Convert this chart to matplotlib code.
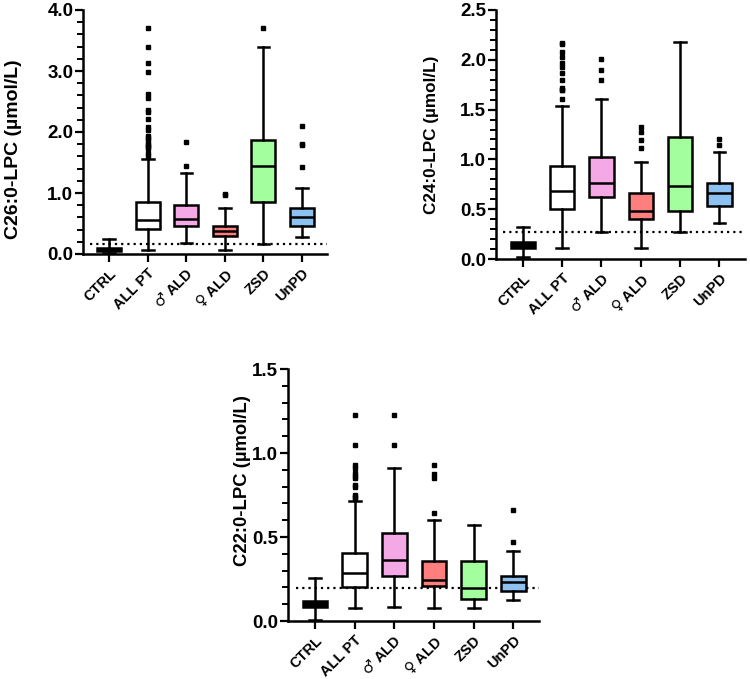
import matplotlib
matplotlib.use("Agg")
import matplotlib.pyplot as plt
from matplotlib.ticker import MultipleLocator, FormatStrFormatter

plt.rcParams['font.family'] = ['Liberation Sans', 'DejaVu Sans']
plt.rcParams['font.weight'] = 'bold'
plt.rcParams['mathtext.fontset'] = 'custom'
plt.rcParams['mathtext.rm'] = 'DejaVu Sans:bold'

categories = ["CTRL", "ALL PT", "$\\mathrm{\u2642}$ ALD", "$\\mathrm{\u2640}$ ALD", "ZSD", "UnPD"]
box_colors = ["#000000", "#FFFFFF", "#F5A8E6", "#FF7F7F", "#A3FF9E", "#8DC1F2"]

# ---- C26:0-LPC ----
c26_q1 = [0.055, 0.41, 0.46, 0.295, 0.85, 0.46]
c26_med = [0.08, 0.557, 0.57, 0.377, 1.44, 0.61]
c26_q3 = [0.10, 0.852, 0.80, 0.459, 1.87, 0.75]
c26_lo = [0.01, 0.066, 0.175, 0.066, 0.16, 0.28]
c26_hi = [0.246, 1.55, 1.33, 0.76, 3.39, 1.09]
c26_fliers = [
    [],
    [3.70, 3.39, 3.13, 2.99, 2.63, 2.55, 2.36, 2.32, 2.22, 2.09, 2.04, 1.93,
     1.90, 1.87, 1.80, 1.78, 1.76, 1.74, 1.65, 1.61],
    [1.84, 1.45],
    [0.99, 0.97],
    [3.70],
    [2.10, 1.80, 1.79, 1.42],
]
c26_cutoff = 0.16

# ---- C24:0-LPC ----
c24_q1 = [0.107, 0.499, 0.625, 0.40, 0.485, 0.532]
c24_med = [0.14, 0.686, 0.766, 0.485, 0.733, 0.66]
c24_q3 = [0.17, 0.934, 1.027, 0.666, 1.228, 0.76]
c24_lo = [0.02, 0.107, 0.274, 0.107, 0.274, 0.358]
c24_hi = [0.318, 1.536, 1.61, 0.97, 2.176, 1.077]
c24_fliers = [
    [],
    [2.17, 2.16, 2.08, 2.03, 1.97, 1.93, 1.87, 1.80, 1.72, 1.70, 1.70, 1.61],
    [2.005, 1.90, 1.80],
    [1.33, 1.28, 1.195, 1.11],
    [],
    [1.20, 1.145],
]
c24_cutoff = 0.268

# ---- C22:0-LPC ----
c22_q1 = [0.085, 0.204, 0.268, 0.21, 0.129, 0.18]
c22_med = [0.10, 0.288, 0.363, 0.244, 0.198, 0.232]
c22_q3 = [0.121, 0.407, 0.526, 0.357, 0.357, 0.268]
c22_lo = [0.005, 0.075, 0.085, 0.075, 0.075, 0.125]
c22_hi = [0.254, 0.716, 0.909, 0.60, 0.571, 0.417]
c22_fliers = [
    [],
    [1.226, 1.048, 0.929, 0.909, 0.883, 0.863, 0.849, 0.81, 0.80, 0.75, 0.74, 0.73],
    [1.226, 1.048],
    [0.929, 0.875, 0.849, 0.641],
    [],
    [0.661, 0.472],
]
c22_cutoff = 0.195

W, H = 750, 679
fig = plt.figure(figsize=(W / 100, H / 100), dpi=100)


def px_axes(left, top, width, height):
    return fig.add_axes([left / W, 1 - (top + height) / H, width / W, height / H])


def panel(ax, q1, med, q3, lo, hi, fliers, cutoff, ymax, major, minor, ylabel,
          ylab_size, ylab_x, ylab_y):
    stats = []
    for i in range(len(categories)):
        stats.append(dict(med=med[i], q1=q1[i], q3=q3[i], whislo=lo[i],
                          whishi=hi[i], fliers=fliers[i], label=categories[i]))
    bp = ax.bxp(stats, positions=range(len(categories)), widths=0.62,
                patch_artist=True, showfliers=True, capwidths=0.3,
                boxprops=dict(linewidth=1.8, edgecolor='black'),
                medianprops=dict(color='black', linewidth=1.8),
                whiskerprops=dict(color='black', linewidth=1.8),
                capprops=dict(color='black', linewidth=1.8),
                flierprops=dict(marker='s', markersize=2.6, markerfacecolor='black',
                                markeredgecolor='black', linestyle='none'))
    for patch, c in zip(bp['boxes'], box_colors):
        patch.set_facecolor(c)
    ax.axhline(cutoff, xmin=0.03, xmax=1.0, color='black', linestyle=(0, (1, 1.8)),
               linewidth=1.6, zorder=0)
    ax.set_xlim(-0.68, 5.65)
    ax.set_ylim(0, ymax)
    ax.yaxis.set_major_locator(MultipleLocator(major))
    ax.yaxis.set_minor_locator(MultipleLocator(minor))
    ax.yaxis.set_major_formatter(FormatStrFormatter('%.1f'))
    ax.set_xticks(range(len(categories)))
    ax.set_xticklabels(categories, rotation=45, ha='right', rotation_mode='anchor',
                       fontsize=10.5, fontweight='bold')
    for lab in ax.get_yticklabels():
        lab.set_fontweight('bold')
    ax.tick_params(axis='y', which='major', length=6, width=1.6, labelsize=13.5, pad=1)
    ax.tick_params(axis='y', which='minor', length=4, width=1.4)
    ax.tick_params(axis='x', which='major', length=6, width=1.6, pad=3)
    for s in ['top', 'right']:
        ax.spines[s].set_visible(False)
    for s in ['left', 'bottom']:
        ax.spines[s].set_linewidth(1.8)
    ax.set_ylabel(ylabel, fontsize=ylab_size, fontweight='bold')
    ax.yaxis.set_label_coords(ylab_x, ylab_y)


ax1 = px_axes(83, 10, 244, 244)
panel(ax1, c26_q1, c26_med, c26_q3, c26_lo, c26_hi, c26_fliers, c26_cutoff,
      4.0, 1.0, 0.2, "C26:0-LPC (\u00b5mol/L)", 14, (22 - 83) / 244, 0.43)

ax2 = px_axes(496, 10, 249, 249)
panel(ax2, c24_q1, c24_med, c24_q3, c24_lo, c24_hi, c24_fliers, c24_cutoff,
      2.5, 0.5, 0.1, "C24:0-LPC (\u00b5mol/L)", 12.3, (439 - 496) / 249, 0.5)

ax3 = px_axes(288, 369, 251, 252)
panel(ax3, c22_q1, c22_med, c22_q3, c22_lo, c22_hi, c22_fliers, c22_cutoff,
      1.5, 0.5, 0.1, "C22:0-LPC (\u00b5mol/L)", 13.3, (251 - 288) / 251, 0.556)

fig.savefig("out.png", dpi=100, facecolor='white')
